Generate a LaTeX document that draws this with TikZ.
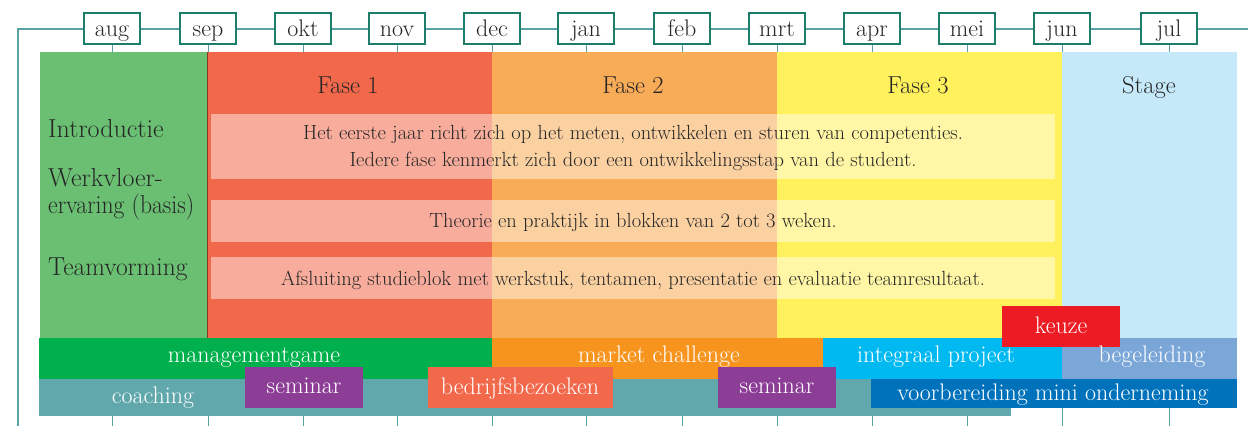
\documentclass[tikz,border=0pt]{standalone}
\usepackage{fontspec}
\usepackage{graphicx}
\definecolor{tline}{HTML}{5AA3A5}
\definecolor{tbox}{HTML}{1E7D6A}
\definecolor{cIntro}{HTML}{6ABF73}
\definecolor{cFa}{HTML}{F2684B}
\definecolor{cFb}{HTML}{F9AC57}
\definecolor{cFc}{HTML}{FFF15C}
\definecolor{cStage}{HTML}{C6E9F9}
\definecolor{cMg}{HTML}{00B04C}
\definecolor{cMc}{HTML}{F7941E}
\definecolor{cIp}{HTML}{00B9F1}
\definecolor{cBeg}{HTML}{7BA6D8}
\definecolor{cCoach}{HTML}{60A8AB}
\definecolor{cSem}{HTML}{8C3D96}
\definecolor{cBedr}{HTML}{F2684B}
\definecolor{cVmo}{HTML}{0072BC}
\definecolor{cKeuze}{HTML}{ED1C24}
\definecolor{ink}{HTML}{262626}
\begin{document}
\begin{tikzpicture}[x=1pt,y=-1pt,
  monthbox/.style={draw=tbox, line width=1.2pt, fill=white, minimum width=56pt,
    inner sep=0pt, text height=23pt, text depth=8pt, text=ink,
    font=\fontsize{24}{28}\selectfont},
  gridline/.style={draw=tline, line width=1pt},
  phaselabel/.style={anchor=base, text=ink, inner sep=0pt, font=\fontsize{24.5}{28}\selectfont},
  sidelabel/.style={anchor=base west, text=ink, inner sep=0pt, font=\fontsize{26}{30}\selectfont},
  bodytext/.style={anchor=base, text=ink, inner sep=0pt, font=\fontsize{20.5}{24}\selectfont},
  barlabel/.style={anchor=base, text=white, inner sep=0pt, font=\fontsize{24}{28}\selectfont},
  band/.style={fill=white, fill opacity=0.45}
]
\useasboundingbox (0,0) rectangle (1248,426);

% timeline
\coordinate (tlstart) at (18,426);
\coordinate (tlend) at (1248,29);
\draw[gridline, line width=1.2pt] (tlstart) |- (tlend);

% month boxes and tick lines
\foreach \name/\xx [count=\i] in {aug/112,sep/208,okt/303,nov/397,dec/492,jan/586,feb/682,mrt/777,apr/872,mei/967,jun/1062,jul/1169}{
  \coordinate (b\i) at (\xx,426);
  \draw[gridline] (\xx,40) -- (b\i);
  \node[monthbox] (m\i) at (\xx,28.5) {\name};
}

% phases
\fill[cIntro] (40,52) rectangle (207,338);
\fill[cFa] (207,52) rectangle (492,338);
\fill[cFb] (492,52) rectangle (777,338);
\fill[cFc] (777,52) rectangle (1062,338);
\fill[cStage] (1062,52) rectangle (1237,379);
\draw[draw=black!45!cFa, line width=0.8pt] (207,52) -- (207,338);

% translucent bands
\fill[band] (211,114) rectangle (1055,179);
\fill[band] (211,200) rectangle (1055,242);
\fill[band] (211,257) rectangle (1055,299);

% bars
\fill[cMg] (39,338) rectangle (492,379);
\fill[cMc] (492,338) rectangle (823,379);
\fill[cIp] (823,338) rectangle (1062,379);
\fill[cBeg] (1062,338) rectangle (1237,379);
\fill[cCoach] (39,379) rectangle (1011,416);
\fill[cSem] (245,367) rectangle (363,408);
\fill[cBedr] (428,367) rectangle (613,408);
\fill[cSem] (718,367) rectangle (836,408);
\fill[cVmo] (871,379) rectangle (1237,408);
\fill[cKeuze] (1002,306) rectangle (1120,347);

% phase labels
\node[phaselabel] (f1) at (348,93) {Fase 1};
\node[phaselabel] (f2) at (633,93) {Fase 2};
\node[phaselabel] (f3) at (918,93) {Fase 3};
\node[phaselabel] (stage) at (1149,93) {Stage};

% side labels
\node[sidelabel] (intro) at (48,137) {Introductie};
\node[sidelabel] (werk) at (48,186) {Werkvloer-};
\node[sidelabel] (erv) at (48,213) {\scalebox{0.91}[1]{ervaring (basis)}};
\node[sidelabel] (team) at (48,275) {\scalebox{0.98}[1]{Teamvorming}};

% body text
\node[bodytext] (t1) at (633,139) {Het eerste jaar richt zich op het meten, ontwikkelen en sturen van competenties.};
\node[bodytext] (t2) at (633,166) {Iedere fase kenmerkt zich door een ontwikkelingsstap van de student.};
\node[bodytext] (t3) at (633,227) {Theorie en praktijk in blokken van 2 tot 3 weken.};
\node[bodytext] (t4) at (633,285) {Afsluiting studieblok met werkstuk, tentamen, presentatie en evaluatie teamresultaat.};

% bar labels
\node[barlabel] (lmg) at (254,362) {managementgame};
\node[barlabel] (lmc) at (659,362) {market challenge};
\node[barlabel] (lip) at (936,362) {integraal project};
\node[barlabel] (lbeg) at (1152,362) {begeleiding};
\node[barlabel] (lcoach) at (153,403) {coaching};
\node[barlabel] (lsem1) at (304,393) {seminar};
\node[barlabel] (lbedr) at (520,394) {bedrijfsbezoeken};
\node[barlabel] (lsem2) at (777,393) {seminar};
\node[barlabel] (lvmo) at (1053,400) {voorbereiding mini onderneming};
\node[barlabel] (lkeuze) at (1061,333) {keuze};
\end{tikzpicture}
\end{document}
